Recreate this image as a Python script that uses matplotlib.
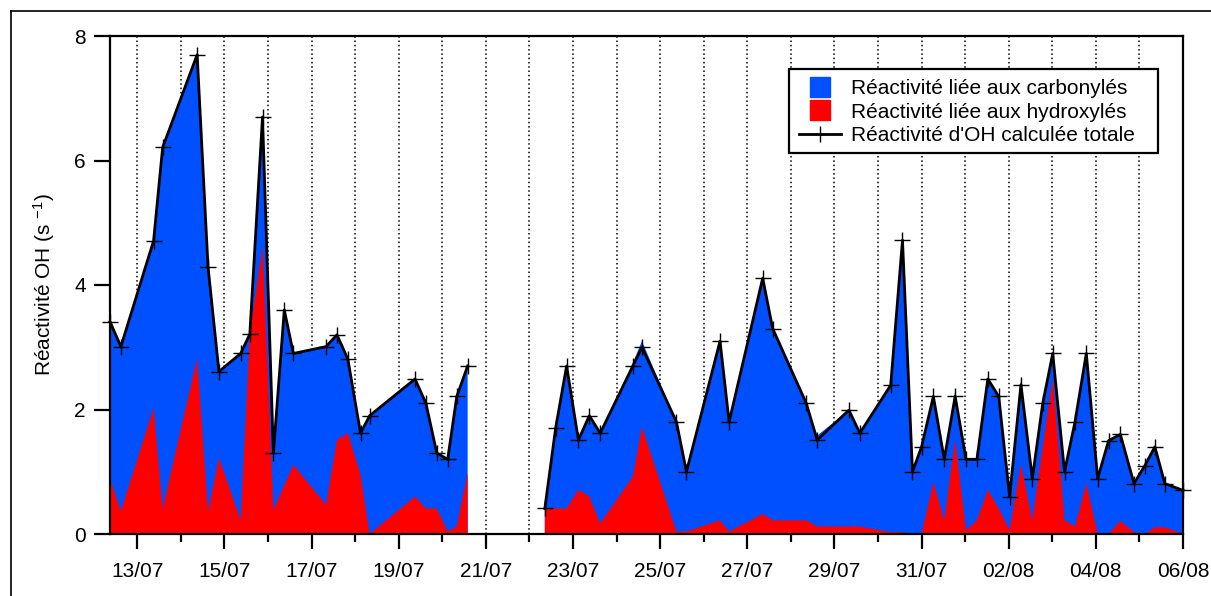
import numpy as np
import pandas as pd
import matplotlib
matplotlib.use("Agg")
import matplotlib.pyplot as plt
import matplotlib.dates as mdates
from matplotlib.lines import Line2D
from matplotlib.patches import Rectangle

plt.rcParams['font.family'] = ['Liberation Sans', 'DejaVu Sans']
plt.rcParams['mathtext.fontset'] = 'custom'
plt.rcParams['mathtext.rm'] = 'Liberation Sans'
plt.rcParams['mathtext.it'] = 'Liberation Sans'

# ---- data ----
times = [
    "2013-07-12 09:00", "2013-07-12 15:00", "2013-07-13 09:00", "2013-07-13 14:00",
    "2013-07-14 09:00", "2013-07-14 15:00", "2013-07-14 21:00", "2013-07-15 09:00",
    "2013-07-15 14:00", "2013-07-15 21:00", "2013-07-16 03:00", "2013-07-16 09:00",
    "2013-07-16 14:00", "2013-07-17 08:00", "2013-07-17 14:00", "2013-07-17 20:00",
    "2013-07-18 03:00", "2013-07-18 08:00", "2013-07-19 09:00", "2013-07-19 15:00",
    "2013-07-19 21:00", "2013-07-20 03:00", "2013-07-20 08:00", "2013-07-20 14:00",
    "2013-07-21 12:00",
    "2013-07-22 08:30", "2013-07-22 14:30", "2013-07-22 20:30", "2013-07-23 03:00",
    "2013-07-23 09:00", "2013-07-23 15:00", "2013-07-24 09:00", "2013-07-24 14:00",
    "2013-07-25 09:00", "2013-07-25 14:30", "2013-07-26 09:00", "2013-07-26 14:00",
    "2013-07-27 08:30", "2013-07-27 14:00", "2013-07-28 08:30", "2013-07-28 14:30",
    "2013-07-29 08:00", "2013-07-29 14:00", "2013-07-30 07:00", "2013-07-30 13:30",
    "2013-07-30 19:00", "2013-07-31 00:00", "2013-07-31 06:30", "2013-07-31 12:30",
    "2013-07-31 18:30", "2013-08-01 00:30", "2013-08-01 06:30", "2013-08-01 12:30",
    "2013-08-01 18:30", "2013-08-02 00:30", "2013-08-02 06:45", "2013-08-02 13:00",
    "2013-08-02 18:45", "2013-08-03 00:15", "2013-08-03 06:45", "2013-08-03 12:30",
    "2013-08-03 18:45", "2013-08-04 01:00", "2013-08-04 07:00", "2013-08-04 13:30",
    "2013-08-04 21:00", "2013-08-05 03:00", "2013-08-05 08:30", "2013-08-05 14:00",
    "2013-08-06 00:00",
]
nan = np.nan
total = [
    3.41, 3.01, 4.71, 6.21, 7.70, 4.29, 2.61, 2.90, 3.21, 6.70, 1.30, 3.60,
    2.90, 3.01, 3.20, 2.81, 1.62, 1.90, 2.49, 2.10, 1.30, 1.20, 2.21, 2.70,
    nan,
    0.41, 1.71, 2.70, 1.51, 1.90, 1.62, 2.70, 3.00, 1.80, 1.00, 3.10, 1.80,
    4.11, 3.30, 2.10, 1.51, 1.99, 1.62, 2.39, 4.72, 1.00, 1.40, 2.21, 1.20,
    2.21, 1.20, 1.20, 2.49, 2.21, 0.60, 2.40, 0.89, 2.10, 2.90, 1.00, 1.80,
    2.90, 0.89, 1.50, 1.60, 0.81, 1.10, 1.40, 0.81, 0.70,
]
# top of the blue (carbonyl) area, stacked above the hydroxyl part
carbonyles = [
    3.47, 3.01, 4.71, 6.21, 7.70, 4.29, 2.61, 2.90, 3.21, 6.70, 1.30, 3.60,
    2.90, 3.01, 3.20, 2.81, 1.62, 1.90, 2.49, 2.10, 1.30, 1.20, 2.21, 2.70,
    nan,
    0.41, 1.71, 2.70, 1.51, 1.90, 1.62, 2.75, 3.10, 1.80, 1.00, 3.10, 1.80,
    4.11, 3.30, 2.10, 1.58, 1.99, 1.62, 2.39, 4.72, 1.00, 1.40, 2.21, 1.20,
    2.30, 1.20, 1.20, 2.49, 2.21, 0.60, 2.48, 0.89, 2.10, 2.90, 1.00, 1.80,
    2.90, 0.89, 1.50, 1.60, 0.81, 1.10, 1.40, 0.81, 0.70,
]
hydroxyles = [
    0.89, 0.37, 2.02, 0.41, 2.82, 0.36, 1.22, 0.22, 3.20, 4.62, 0.39, 0.78,
    1.11, 0.47, 1.51, 1.62, 0.95, 0.00, 0.60, 0.41, 0.41, 0.04, 0.12, 0.98,
    nan,
    0.41, 0.41, 0.41, 0.71, 0.60, 0.17, 0.92, 1.72, 0.04, 0.04, 0.22, 0.04,
    0.32, 0.22, 0.22, 0.12, 0.12, 0.12, 0.03, 0.03, 0.00, 0.00, 0.83, 0.22,
    1.51, 0.06, 0.22, 0.71, 0.41, 0.06, 1.12, 0.22, 1.40, 2.50, 0.22, 0.12,
    0.81, 0.00, 0.00, 0.21, 0.03, 0.00, 0.11, 0.11, 0.00,
]
tick_labels = ["13/07", "15/07", "17/07", "19/07", "21/07", "23/07", "25/07",
               "27/07", "29/07", "31/07", "02/08", "04/08", "06/08"]
tick_dates = ["2013-07-13", "2013-07-15", "2013-07-17", "2013-07-19", "2013-07-21",
              "2013-07-23", "2013-07-25", "2013-07-27", "2013-07-29", "2013-07-31",
              "2013-08-02", "2013-08-04", "2013-08-06"]
labels = ["Réactivité liée aux carbonylés", "Réactivité liée aux hydroxylés",
          "Réactivité d'OH calculée totale"]

t = pd.to_datetime(times)
total = np.array(total)
carbonyles = np.array(carbonyles)
hydroxyles = np.array(hydroxyles)

BLUE = '#0050FF'
RED = '#FF0000'
FS = 15
W, H = 1211, 596

fig = plt.figure(figsize=(W/100, H/100), dpi=100)
ax = fig.add_axes([110/W, 1-534/H, (1183-110)/W, (534-36)/H])

ax.fill_between(t, 0, carbonyles, color=BLUE, linewidth=0, zorder=2)
ax.fill_between(t, 0, hydroxyles, color=RED, linewidth=0, zorder=3)
ax.plot(t, total, color='black', lw=2.0, marker='+', ms=11, mew=1.0, zorder=4,
        clip_on=False)

ax.set_ylim(0, 8)
ax.set_yticks([0, 2, 4, 6, 8])
ax.set_xlim(pd.Timestamp("2013-07-12 09:00"), pd.Timestamp("2013-08-06 00:00"))
ax.set_xticks(pd.to_datetime(tick_dates))
ax.set_xticklabels(tick_labels)
ax.xaxis.set_minor_locator(mdates.DayLocator())

ax.grid(True, which='both', axis='x', color='black', linestyle=(0, (1, 1.8)),
        linewidth=1.1, zorder=1)
ax.set_axisbelow(True)

for s in ax.spines.values():
    s.set_linewidth(1.6)
    s.set_zorder(5)

ax.tick_params(axis='y', which='major', direction='out', length=11.5, width=1.6,
               labelsize=FS, pad=6)
ax.tick_params(axis='x', which='major', direction='out', length=11, width=1.6,
               labelsize=FS, pad=9)
ax.tick_params(axis='x', which='minor', direction='out', length=5.5, width=1.6)

ax.set_ylabel(r'Réactivité OH (s $^{-1}$)', fontsize=FS, labelpad=12)

# legend box drawn separately (wider on the right, like the reference)
fig.add_artist(Rectangle((789/W, 1-153/H), (1158-789)/W, (153-69)/H,
                         transform=fig.transFigure, facecolor='white',
                         edgecolor='black', lw=1.6, zorder=9))
handles = [
    Line2D([], [], marker='s', color=BLUE, linestyle='none', markersize=14),
    Line2D([], [], marker='s', color=RED, linestyle='none', markersize=14),
    Line2D([], [], color='black', lw=2.0, marker='+', ms=11, mew=1.0),
]
leg = fig.legend(handles, labels, loc='upper left',
                 bbox_to_anchor=(797/W, 1-77/H), bbox_transform=fig.transFigure,
                 borderaxespad=0, borderpad=0.1, fontsize=FS, frameon=False,
                 handlelength=2.0, handletextpad=0.5, labelspacing=0.22)
leg.set_zorder(10)

# outer frame of the figure (left and top visible)
fig.add_artist(Line2D([11/W, 11/W], [0, 1-11/H], transform=fig.transFigure,
                      color='black', lw=1.2))
fig.add_artist(Line2D([11/W, 1], [1-11/H, 1-11/H], transform=fig.transFigure,
                      color='black', lw=1.2))

fig.savefig("out.png", dpi=100)
